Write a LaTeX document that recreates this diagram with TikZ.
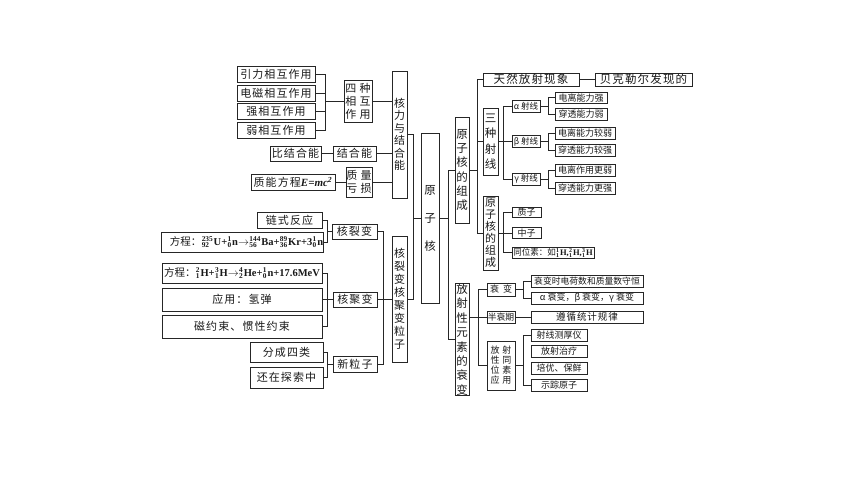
\documentclass[tikz,border=0pt]{standalone}
\usepackage{amsmath}
\usepackage[no-math]{fontspec}
\setmainfont{Noto Sans CJK SC}
\newfontfamily\cjks[LetterSpace=10]{Noto Sans CJK SC}
\newfontfamily\cjkw[LetterSpace=30]{Noto Sans CJK SC}
\newfontfamily\eqf{Liberation Serif}
\newcommand\nuc[3]{\hspace{0.4pt}$^{\text{\eqf\bfseries #1}}_{\text{\eqf\bfseries #2}}$\hspace{0.4pt}{\eqf\bfseries #3}}
\newcommand\bp[1]{{\eqf\bfseries #1}}
\usetikzlibrary{calc}
\tikzset{
  bx/.style={draw=black!85, line width=0.8pt, inner sep=0pt, text=black!90},
  ln/.style={draw=black!85, line width=0.8pt},
  big/.style={font=\cjks\fontsize{11}{12.5}\selectfont},
  bigr/.style={font=\cjks\fontsize{11.5}{13}\selectfont},
  sml/.style={font=\fontsize{9}{10}\selectfont},
  tiny/.style={font=\fontsize{8.5}{9.5}\selectfont},
  vt/.style={align=center, font=\fontsize{11}{#1}\selectfont},
  eqn/.style={font=\fontsize{10.5}{12}\selectfont},
}
\newcommand\mybox[7][]{\node[bx,minimum width={#5-#3},minimum height={#6-#4},#1] (#2) at ({(#3+#5)/2},{(#4+#6)/2}) {#7};}
\begin{document}
\begin{tikzpicture}[x=1pt,y=-1pt]
\useasboundingbox[fill=white] (0,0) rectangle (860,484);
% ---------- left upper group ----------
\mybox[big]{yinli}{237}{66}{315}{82}{引力相互作用}
\mybox[big]{dianci}{237}{85}{315}{101}{电磁相互作用}
\mybox[big]{qiang}{237}{103}{315}{119}{强相互作用}
\mybox[big]{ruo}{237}{122}{315}{138}{弱相互作用}
\mybox[vt=13,font=\cjkw\fontsize{11}{13}\selectfont]{sizhong}{344}{80}{372}{122}{四种\\相互\\作用}
\mybox[vt=12.5]{heli}{392}{71}{407}{198}{核\\力\\与\\结\\合\\能}
\mybox[big]{bijiehe}{270}{146}{321}{161}{比结合能}
\mybox[big]{jiehe}{333}{146}{376}{161}{结合能}
\mybox[big]{zhineng}{251}{174}{335}{190}{质能方程{\eqf\bfseries\itshape E=mc\textsuperscript{2}}}
\mybox[vt=13,font=\cjkw\fontsize{11}{13}\selectfont]{zhiliang}{346}{167}{372}{197}{质量\\亏损}
% ---------- left lower group ----------
\mybox[big]{lianshi}{257}{212}{322}{228}{链式反应}
\mybox[eqn]{eqU}{163}{232}{322}{252}{\hspace*{8pt}方程：\nuc{235}{92}{U}\bp{+}\nuc{1}{0}{n}$\rightarrow$\nuc{144}{56}{Ba}\bp{+}\nuc{89}{36}{Kr}\bp{+3}\nuc{1}{0}{n}}
\mybox[big]{lie}{332}{224}{377}{239}{核裂变}
\mybox[eqn]{eqH}{162}{263}{322}{283}{方程：\nuc{2}{1}{H}\bp{+}\nuc{3}{1}{H}$\rightarrow$\nuc{4}{2}{He}\bp{+}\nuc{1}{0}{n}\bp{+17.6MeV}}
\mybox[big]{yingyong}{162}{288}{322}{311}{应用：氢弹}
\mybox[big]{ciyue}{162}{315}{322}{338}{磁约束、惯性约束}
\mybox[big]{ju}{333}{292}{377}{307}{核聚变}
\mybox[big]{fencheng}{250}{342}{323}{362}{分成四类}
\mybox[big]{haizai}{250}{367}{323}{388}{还在探索中}
\mybox[big]{xin}{333}{356}{377}{372}{新粒子}
\mybox[vt=13]{hebig}{392}{236}{407}{362}{核\\裂\\变\\核\\聚\\变\\粒\\子}
% ---------- centre ----------
\mybox[vt=28,font=\fontsize{11.5}{28}\selectfont]{yzh}{421}{133}{439}{303}{原\\子\\核}
% ---------- right upper ----------
\mybox[vt=14.3,font=\fontsize{11.5}{14.3}\selectfont]{zc}{455}{117}{469}{223}{原\\子\\核\\的\\组\\成}
\mybox[vt=14.4,font=\fontsize{11.5}{14.4}\selectfont]{fsx}{455}{287}{469}{392}{放\\射\\性\\元\\素\\的\\衰\\变}
\mybox[bigr]{tianran}{483}{73}{579}{86}{天然放射现象}
\mybox[bigr]{beike}{595}{73}{692}{86}{贝克勒尔发现的}
\mybox[vt=15.5,font=\fontsize{11.5}{15.5}\selectfont]{san}{483}{108}{498}{175}{三\\种\\射\\线}
\mybox[vt=12,font=\fontsize{11}{12}\selectfont]{zc2}{483}{196}{498}{270}{原\\子\\核\\的\\组\\成}
\mybox[tiny]{alpha}{512}{100}{540}{112}{α 射线}
\mybox[tiny]{beta}{512}{135.5}{540}{147.5}{β 射线}
\mybox[tiny]{gamma}{512}{173}{540}{185}{γ 射线}
\mybox[sml]{a1}{555}{92}{607}{103.5}{电离能力强}
\mybox[sml]{a2}{555}{108.5}{607}{120}{穿透能力弱}
\mybox[sml]{b1}{555}{127}{615}{139}{电离能力较弱}
\mybox[sml]{b2}{555}{144}{615}{156}{穿透能力较强}
\mybox[sml]{g1}{555}{164}{615}{176}{电离作用更弱}
\mybox[sml]{g2}{555}{182}{615}{194}{穿透能力更强}
\mybox[sml]{zhizi}{512}{207}{541}{217}{质子}
\mybox[sml]{zhongzi}{512}{227.5}{541}{238.5}{中子}
\mybox[font=\fontsize{8.5}{10}\selectfont]{tongwei}{512}{247}{594}{258.5}{同位素：如\nuc{1}{1}{H}\bp{,}\nuc{2}{1}{H}\bp{,}\nuc{3}{1}{H}}
% ---------- right lower ----------
\mybox[sml]{shuai}{487}{283}{515}{296}{衰\hspace{4pt}变}
\mybox[sml,font=\fontsize{8.8}{10}\selectfont]{ban}{487}{311}{515}{323}{半衰期}
\mybox[vt=10,font=\cjkw\fontsize{9}{10}\selectfont]{ying2}{487}{341}{515}{390}{放射\\性同\\位素\\应用}
\mybox[font=\fontsize{8.8}{10}\selectfont]{s1}{531}{275}{643}{287}{衰变时电荷数和质量数守恒}
\mybox[sml]{s2}{531}{292}{643}{304}{α 衰变，β 衰变，γ 衰变}
\mybox[sml,font=\cjks\fontsize{9.5}{10}\selectfont]{tongji}{531}{311}{643}{323}{遵循统计规律}
\mybox[sml]{y1}{531}{329}{587}{341}{射线测厚仪}
\mybox[sml]{y2}{531}{345}{587}{357}{放射治疗}
\mybox[sml]{y3}{531}{362}{587}{374}{培优、保鲜}
\mybox[sml]{y4}{531}{379}{587}{391}{示踪原子}
% ---------- bracket coordinates ----------
\coordinate (bA) at (325,0);
\coordinate (bB) at (327,0);
\coordinate (bC) at (383,0);
\coordinate (bD) at (413,0);
\coordinate (bE) at (448,0);
\coordinate (bF) at (477,0);
\coordinate (bG) at (503,0);
\coordinate (bH) at (548,0);
\coordinate (bI) at (478,0);
\coordinate (bJ) at (523,0);
% ---------- connectors left ----------
\draw[ln] (yinli.east) -| (bA|-ruo.east) -- (ruo.east);
\draw[ln] (dianci.east) -- (bA|-dianci.east);
\draw[ln] (qiang.east) -- (bA|-qiang.east);
\draw[ln] (bA|-sizhong.west) -- (sizhong.west);
\draw[ln] (sizhong.east) -- (heli.west|-sizhong.east);
\draw[ln] (bijiehe.east) -- (jiehe.west);
\draw[ln] (jiehe.east) -- (heli.west|-jiehe.east);
\draw[ln] (zhineng.east) -- (zhiliang.west|-zhineng.east);
\draw[ln] (zhiliang.east) -- (heli.west|-zhiliang.east);
\draw[ln] (lianshi.east) -| (bB|-eqU.east) -- (eqU.east);
\draw[ln] (bB|-lie.west) -- (lie.west);
\draw[ln] (eqH.east) -| (bB|-ciyue.east) -- (ciyue.east);
\draw[ln] (yingyong.east) -- (ju.west);
\draw[ln] (fencheng.east) -| (bB|-haizai.east) -- (haizai.east);
\draw[ln] (bB|-xin.west) -- (xin.west);
\draw[ln] (lie.east) -| (bC|-xin.east) -- (xin.east);
\draw[ln] (ju.east) -- (hebig.west|-ju.east);
\draw[ln] (heli.east) -| (bD|-hebig.east) -- (hebig.east);
\draw[ln] (bD|-yzh.west) -- (yzh.west);
% ---------- connectors right ----------
\draw[ln] (yzh.east) -- (bE|-yzh.east);
\draw[ln] (zc.west) -| (bE|-fsx.west) -- (fsx.west);
\draw[ln] (tianran.west) -| (bF|-zc2.west) -- (zc2.west);
\draw[ln] (zc.east) -- (bF|-zc.east);
\draw[ln] (bF|-san.west) -- (san.west);
\draw[ln] (tianran.east) -- (beike.west);
\draw[ln] (alpha.west) -| (bG|-gamma.west) -- (gamma.west);
\draw[ln] (san.east) -- (beta.west);
\draw[ln] (a1.west) -| (bH|-a2.west) -- (a2.west);
\draw[ln] (alpha.east) -- (bH|-alpha.east);
\draw[ln] (b1.west) -| (bH|-b2.west) -- (b2.west);
\draw[ln] (beta.east) -- (bH|-beta.east);
\draw[ln] (g1.west) -| (bH|-g2.west) -- (g2.west);
\draw[ln] (gamma.east) -- (bH|-gamma.east);
\draw[ln] (zhizi.west) -| (bG|-tongwei.west) -- (tongwei.west);
\draw[ln] (zc2.east) -- (zhongzi.west);
\draw[ln] (shuai.west) -| (bI|-ying2.west) -- (ying2.west);
\draw[ln] (fsx.east|-ban.west) -- (ban.west);
\draw[ln] (s1.west) -| (bJ|-s2.west) -- (s2.west);
\draw[ln] (shuai.east) -- (bJ|-shuai.east);
\draw[ln] (ban.east) -- (tongji.west);
\draw[ln] (y1.west) -| (bJ|-y4.west) -- (y4.west);
\draw[ln] (ying2.east) -- (bJ|-ying2.east);
\end{tikzpicture}
\end{document}
